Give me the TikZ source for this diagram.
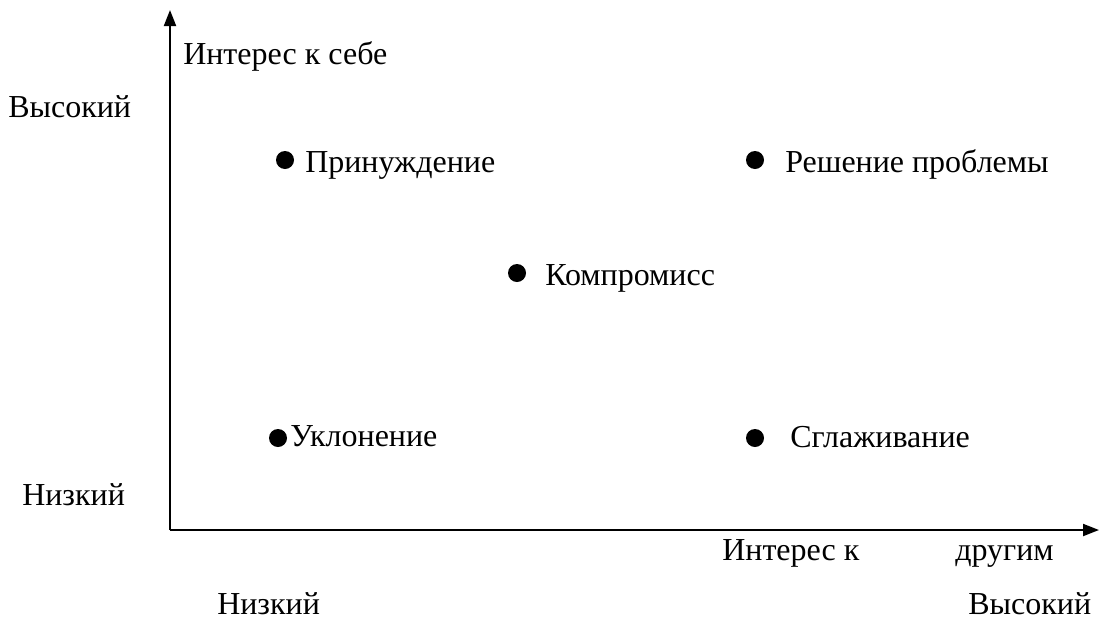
\documentclass[tikz,border=0pt]{standalone}
\usepackage{fontspec}
\setmainfont{Liberation Serif}
\usetikzlibrary{arrows.meta, positioning}

\begin{document}
\begin{tikzpicture}[x=0.75pt,y=-0.75pt,
  every node/.style={font=\fontsize{24}{28}\selectfont},
  dot/.style={circle,fill,inner sep=0pt,minimum size=13.5pt},
  lbl/.style={anchor=base west,inner sep=0pt},
  axis/.style={line width=1.5pt,-{Triangle[length=12pt,width=9pt]}}]
  \useasboundingbox (0,0) rectangle (1099,618);
  % axes
  \coordinate (o) at (170,530);
  \coordinate (ytop) at (170,10);
  \coordinate (xend) at (1099,530);
  \draw[axis] (o) -- (ytop);
  \draw[axis] (o) -- (xend);
  % axis titles and levels
  \node[lbl] (self) at (183,64) {Интерес к себе};
  \node[lbl] (yhigh) at (8,117) {Высокий};
  \node[lbl] (ylow) at (22,505) {Низкий};
  \node[lbl] (other1) at (722,560) {Интерес к};
  \node[lbl] (other2) at (955,560) {другим};
  \node[lbl] (xlow) at (217,614) {Низкий};
  \node[lbl] (xhigh) at (968,614) {Высокий};
  % styles
  \node[dot] (d1) at (285,160) {};
  \node[lbl] (s1) at (305,172) {Принуждение};
  \node[dot] (d2) at (755,160) {};
  \node[lbl] (s2) at (785,172) {Решение проблемы};
  \node[dot] (d3) at (517,273) {};
  \node[lbl] (s3) at (545,285) {Компромисс};
  \node[dot] (d4) at (278,438) {};
  \node[lbl] (s4) at (290,446) {Уклонение};
  \node[dot] (d5) at (755,438) {};
  \node[lbl] (s5) at (790,447) {Сглаживание};
\end{tikzpicture}
\end{document}
